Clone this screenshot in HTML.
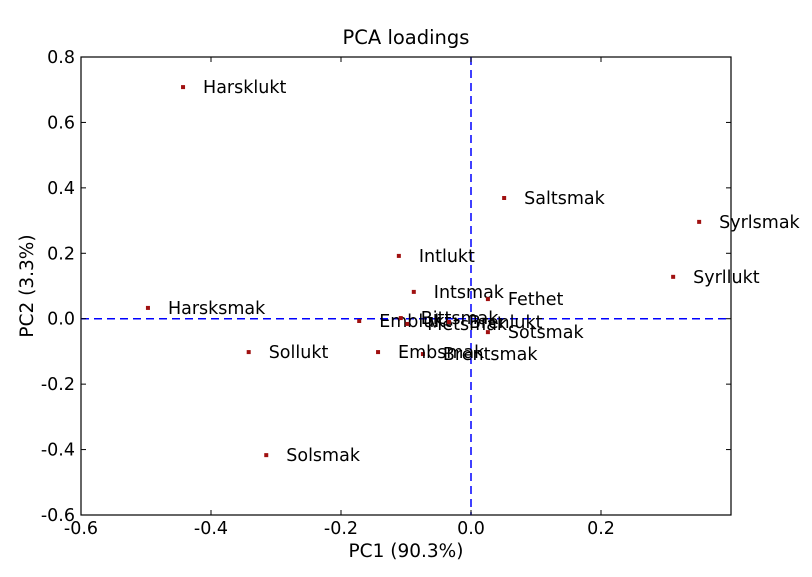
<!DOCTYPE html>
<html><head><meta charset="utf-8"><style>
body{margin:0;background:#fff;}
svg text{font-family:"DejaVu Sans","Liberation Sans",sans-serif;}
</style></head><body>
<svg id="chart" width="812" height="572">
<rect x="0" y="0" width="812" height="572" fill="#fff"/>
<g id="plot"></g>
</svg>
<script>
const labels=["Harsklukt","Saltsmak","Syrlsmak","Intlukt","Syrllukt","Harsksmak","Intsmak","Fethet","Emblukt","Bittsmak","Metsmak","Brenlukt","Sotsmak","Brentsmak","Embsmak","Sollukt","Solsmak"];
const pc1=[-0.443,0.051,0.351,-0.111,0.311,-0.497,-0.088,0.026,-0.172,-0.108,-0.098,-0.034,0.026,-0.074,-0.143,-0.342,-0.315];
const pc2=[0.708,0.369,0.296,0.192,0.128,0.033,0.082,0.060,-0.007,0.002,-0.016,-0.010,-0.041,-0.108,-0.102,-0.102,-0.417];
const xTicks=[-0.6,-0.4,-0.2,0.0,0.2];
const xTickLabels=["-0.6","-0.4","-0.2","0.0","0.2"];
const yTicks=[0.8,0.6,0.4,0.2,0.0,-0.2,-0.4,-0.6];
const yTickLabels=["0.8","0.6","0.4","0.2","0.0","-0.2","-0.4","-0.6"];
const L=81,R=731,T=57,B=515,xmin=-0.6,xmax=0.4,ymin=-0.6,ymax=0.8;
const X=v=>L+(v-xmin)/(xmax-xmin)*(R-L);
const Y=v=>B-(v-ymin)/(ymax-ymin)*(B-T);
const NS="http://www.w3.org/2000/svg";
const g=document.getElementById('plot');
function mk(tag,attrs,txt){const e=document.createElementNS(NS,tag);for(const k in attrs)e.setAttribute(k,attrs[k]);if(txt!==undefined)e.textContent=txt;g.appendChild(e);return e;}
let e;
e=mk('rect',{x:L,y:T,width:R-L,height:B-T,fill:'none',stroke:'#000','stroke-width':1.2});


e=mk('line',{x1:L,x2:R,y1:Y(0),y2:Y(0),stroke:'#0000ff','stroke-width':1.5,'stroke-dasharray':'8,5'});


e=mk('line',{x1:X(0),x2:X(0),y1:T,y2:B,stroke:'#0000ff','stroke-width':1.5,'stroke-dasharray':'8,5'});


xTicks.forEach((v,i)=>{
  mk('line',{x1:X(v),x2:X(v),y1:B,y2:B-5,stroke:'#000'});
  mk('line',{x1:X(v),x2:X(v),y1:T,y2:T+5,stroke:'#000'});
  e=mk('text',{x:X(v),y:B+19,'text-anchor':'middle','font-size':17.5},xTickLabels[i]);
  
  
});
yTicks.forEach((v,i)=>{
  mk('line',{x1:L,x2:L+5,y1:Y(v),y2:Y(v),stroke:'#000'});
  mk('line',{x1:R,x2:R-5,y1:Y(v),y2:Y(v),stroke:'#000'});
  e=mk('text',{x:L-6,y:Y(v)+6,'text-anchor':'end','font-size':17.5},yTickLabels[i]);
  
  
});
labels.forEach((n,i)=>{
  e=mk('rect',{x:X(pc1[i])-2,y:Y(pc2[i])-2,width:4,height:4,fill:'#a01010'});
  
  
  e=mk('text',{x:X(pc1[i])+20,y:Y(pc2[i])+6,'font-size':17.5},n);
  
  
});
e=mk('text',{x:406,y:44,'text-anchor':'middle','font-size':19.5},'PCA loadings');


e=mk('text',{x:406,y:557,'text-anchor':'middle','font-size':18.5},'PC1 (90.3%)');


e=mk('text',{x:33,y:286,'text-anchor':'middle','font-size':18.5,transform:'rotate(-90 33 286)'},'PC2 (3.3%)');


</script>
</body></html>
